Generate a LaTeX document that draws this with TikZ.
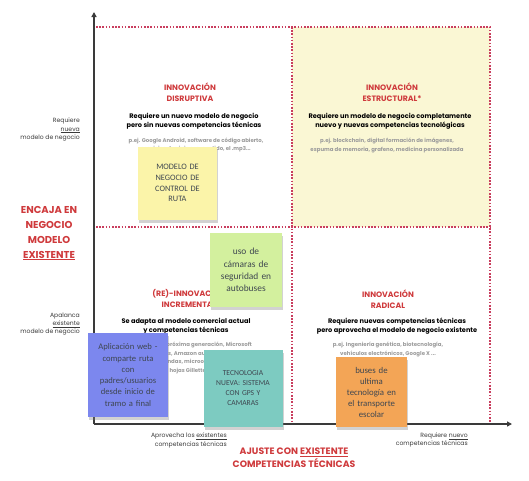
\documentclass[tikz,border=0pt]{standalone}
\usepackage{fontspec}
\setmainfont{Poppins}
\newfontfamily\notefont{Carlito}
\usetikzlibrary{arrows.meta,shadows}
\definecolor{titlered}{HTML}{CF3A3C}
\definecolor{dotred}{HTML}{C93E5E}
\definecolor{exgrey}{HTML}{9C9C9C}
\definecolor{labelgrey}{HTML}{3A3A3A}
\definecolor{quadyellow}{HTML}{FAF7D4}
\definecolor{noteyellow}{HTML}{FBF4A9}
\definecolor{notegreen}{HTML}{D3F09E}
\definecolor{noteblue}{HTML}{7C87EE}
\definecolor{noteteal}{HTML}{7DCBC1}
\definecolor{noteorange}{HTML}{F3A556}
\definecolor{notetext}{HTML}{3E4650}

\begin{document}
\begin{tikzpicture}[x=1pt,y=-1pt,
  quadtitle/.style={text=titlered,font=\bfseries\fontsize{7.8}{10.5}\selectfont,align=center},
  quadtext/.style={font=\bfseries\fontsize{6.6}{9}\selectfont,align=center},
  quadex/.style={text=exgrey,font=\bfseries\fontsize{5.4}{8.6}\selectfont,align=center},
  sidelabel/.style={text=labelgrey,font=\fontsize{6.1}{8.2}\selectfont,align=right,inner sep=0pt},
  axistitle/.style={text=titlered,font=\bfseries\fontsize{9.3}{13}\selectfont,align=center},
  note/.style={text=notetext,align=center,inner sep=2pt,
    drop shadow={opacity=0.35,shadow xshift=1pt,shadow yshift=-3pt}},
  grid/.style={dotred,line width=1.2pt,dash pattern=on 1.5pt off 1.7pt},
  axis/.style={labelgrey,line width=1.3pt,-{Triangle[length=5pt,width=5pt]}}]
  \fill[white] (0,0) rectangle (529,480);
  \fill[quadyellow] (292,27) rectangle (490,227);
  \draw[grid] (96,27) -- (490,27) -- (490,424);
  \draw[grid] (292,27) -- (292,424);
  \draw[grid] (96,227) -- (490,227);
  \coordinate (o) at (94,424);
  \coordinate (ytop) at (94,12);
  \coordinate (xend) at (512,424);
  \draw[axis] (o) -- (ytop);
  \draw[axis] (o) -- (xend);

  \node[quadtitle] (disrtitle) at (190,92) {INNOVACIÓN\\DISRUPTIVA};
  \node[quadtext] (disrtext) at (194,121) {Requiere un nuevo modelo de negocio\\pero sin nuevas competencias técnicas};
  \node[quadex] (disrex) at (196,145) {p.ej. Google Android, software de código abierto,\\servicios de viaje compartido, el .mp3...};
  \node[quadtitle] (esttitle) at (392,92) {INNOVACIÓN\\ESTRUCTURAL*};
  \node[quadtext] (esttext) at (390,121) {Requiere un modelo de negocio completamente\\nuevo y nuevas competencias tecnológicas};
  \node[quadex] (estex) at (387,145.5) {p.ej. blockchain, digital formación de imágenes,\\espuma de memoria, grafeno, medicina personalizada};
  \node[quadtitle] (inctitle) at (189,298) {(RE)-INNOVACIÓN\\INCREMENTAL};
  \node[quadtext] (inctext) at (186,326) {Se adapta al modelo comercial actual\\y competencias técnicas};
  \node[quadex] (incex) at (190,358) {p.ej. autos de próxima generación, Microsoft\\Windows, Amazon autoservicio,\\tiendas, microondas,\\hojas Gillette...};
  \node[quadtitle] (radtitle) at (388,299) {INNOVACIÓN\\RADICAL};
  \node[quadtext] (radtext) at (397,326.5) {Requiere nuevas competencias técnicas\\pero aprovecha el modelo de negocio existente};
  \node[quadex] (radex) at (388,349.5) {p.ej. Ingeniería genética, biotecnología,\\vehículos electrónicos, Google X ...};

  \node[sidelabel,anchor=east] (newmodel) at (80,129.5) {Requiere\\\underline{nueva}\\modelo de negocio};
  \node[sidelabel,anchor=east] (oldmodel) at (80,324) {Apalanca\\\underline{existente}\\modelo de negocio};
  \node[axistitle,font=\bfseries\fontsize{10}{15}\selectfont] (ytitle) at (49,233) {ENCAJA EN\\NEGOCIO\\MODELO\\\underline{EXISTENTE}};
  \node[sidelabel,anchor=east] (oldskill) at (227,440.5) {Aprovecha los \underline{existentes}\\competencias técnicas};
  \node[sidelabel,anchor=east] (newskill) at (468,440) {Requiere \underline{nuevo}\\competencias técnicas};
  \node[axistitle] (xtitle) at (294,458) {AJUSTE CON \underline{EXISTENTE}\\COMPETENCIAS TÉCNICAS};

  \node[note,fill=noteyellow,minimum width=79pt,minimum height=73pt,text width=70pt,
    font=\notefont\fontsize{8.3}{10.7}\selectfont] (rutamodel) at (177.5,183) {MODELO DE\\NEGOCIO DE\\CONTROL DE\\RUTA};
  \node[note,fill=notegreen,minimum width=72pt,minimum height=74pt,text width=66pt,
    font=\notefont\fontsize{9.4}{12.3}\selectfont] (camaras) at (246,270) {uso de\\cámaras de\\seguridad en\\autobuses};
  \node[note,fill=noteblue,minimum width=80pt,minimum height=84pt,text width=76pt,
    font=\notefont\fontsize{8.6}{11.3}\selectfont] (appweb) at (128,375) {Aplicación web -\\comparte ruta\\con\\padres/usuarios\\desde inicio de\\tramo a final};
  \node[note,fill=noteteal,minimum width=79pt,minimum height=77pt,text width=74pt,
    font=\notefont\fontsize{7.6}{10}\selectfont] (gps) at (243,388.5) {TECNOLOGIA\\NUEVA: SISTEMA\\CON GPS Y\\CAMARAS};
  \node[note,fill=noteorange,minimum width=71pt,minimum height=70pt,text width=66pt,
    font=\notefont\fontsize{8.8}{11}\selectfont] (buses) at (371.5,392) {buses de\\ultima\\tecnología en\\el transporte\\escolar};
\end{tikzpicture}
\end{document}
